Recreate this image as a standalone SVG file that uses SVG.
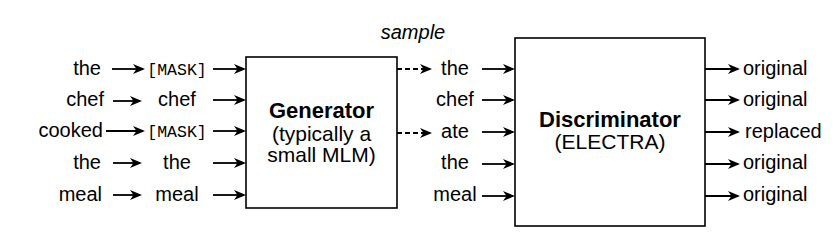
<svg xmlns="http://www.w3.org/2000/svg" width="839" height="238" viewBox="0 0 839 238">
<style>
text{font-family:"Liberation Sans",Arial,sans-serif;font-size:20px;fill:#000}
.mono{font-family:"Liberation Mono","DejaVu Sans Mono",monospace;font-size:16.5px}
.c{text-anchor:middle}
.e{text-anchor:end}
.title{font-weight:bold;font-size:22px}
.sub{font-size:21px}
.box{fill:#fff;stroke:#000;stroke-width:1.6}
.arr{stroke:#000;stroke-width:1.8;fill:none;marker-end:url(#ah)}
.dash{stroke-dasharray:5 3}
</style>
<defs>
<marker id="ah" markerUnits="userSpaceOnUse" markerWidth="12" markerHeight="10" viewBox="0 0 12 10" refX="10" refY="5" orient="auto">
<path d="M0,0 L12,5 L0,10 L3.5,5 Z" fill="#000"/>
</marker>
</defs>
<g id="inputs">
<text class="e" x="101" y="75">the</text>
<text class="e" x="104" y="106">chef</text>
<text class="e" x="103" y="137">cooked</text>
<text class="e" x="101" y="169">the</text>
<text class="e" x="102" y="201">meal</text>
</g>
<g id="masked">
<text class="mono c" x="177" y="75">[MASK]</text>
<text class="c" x="177" y="106">chef</text>
<text class="mono c" x="177" y="137">[MASK]</text>
<text class="c" x="177" y="169">the</text>
<text class="c" x="177" y="201">meal</text>
</g>
<g id="generator">
<rect class="box" x="246" y="57" width="151" height="151"/>
<text class="title c" x="321.5" y="118">Generator</text>
<text class="sub c" x="321.5" y="141">(typically a</text>
<text class="sub c" x="321.5" y="162">small MLM)</text>
</g>
<g id="sample-label">
<text class="c" x="413" y="39" font-style="italic">sample</text>
</g>
<g id="sampled">
<text class="c" x="455" y="75">the</text>
<text class="c" x="455" y="106">chef</text>
<text class="c" x="455" y="138">ate</text>
<text class="c" x="455" y="169">the</text>
<text class="c" x="455" y="201">meal</text>
</g>
<g id="discriminator">
<rect class="box" x="515" y="38" width="190" height="188"/>
<text class="title c" x="610" y="127">Discriminator</text>
<text class="sub c" x="610" y="149">(ELECTRA)</text>
</g>
<g id="outputs">
<text x="743" y="75">original</text>
<text x="743" y="106">original</text>
<text x="745" y="138" font-size="19">replaced</text>
<text x="743" y="169">original</text>
<text x="743" y="201">original</text>
</g>
<g id="connectors">
<line class="arr" x1="112" y1="69" x2="143" y2="69"/>
<line class="arr" x1="113" y1="101" x2="140" y2="101"/>
<line class="arr" x1="106" y1="131" x2="143" y2="131"/>
<line class="arr" x1="113" y1="163" x2="140" y2="163"/>
<line class="arr" x1="113" y1="195" x2="140" y2="195"/>
<line class="arr" x1="213" y1="69" x2="244" y2="69"/>
<line class="arr" x1="213" y1="100" x2="244" y2="100"/>
<line class="arr" x1="213" y1="131" x2="244" y2="131"/>
<line class="arr" x1="213" y1="163" x2="244" y2="163"/>
<line class="arr" x1="213" y1="195" x2="244" y2="195"/>
<line class="arr dash" x1="397" y1="69" x2="430" y2="69"/>
<line class="arr dash" x1="397" y1="133" x2="430" y2="133"/>
<line class="arr" x1="482" y1="69" x2="513" y2="69"/>
<line class="arr" x1="482" y1="100" x2="513" y2="100"/>
<line class="arr" x1="482" y1="132" x2="513" y2="132"/>
<line class="arr" x1="482" y1="164" x2="513" y2="164"/>
<line class="arr" x1="482" y1="196" x2="513" y2="196"/>
<line class="arr" x1="705" y1="69" x2="738" y2="69"/>
<line class="arr" x1="705" y1="100" x2="738" y2="100"/>
<line class="arr" x1="705" y1="132" x2="738" y2="132"/>
<line class="arr" x1="705" y1="164" x2="738" y2="164"/>
<line class="arr" x1="705" y1="196" x2="738" y2="196"/>
</g>
</svg>
